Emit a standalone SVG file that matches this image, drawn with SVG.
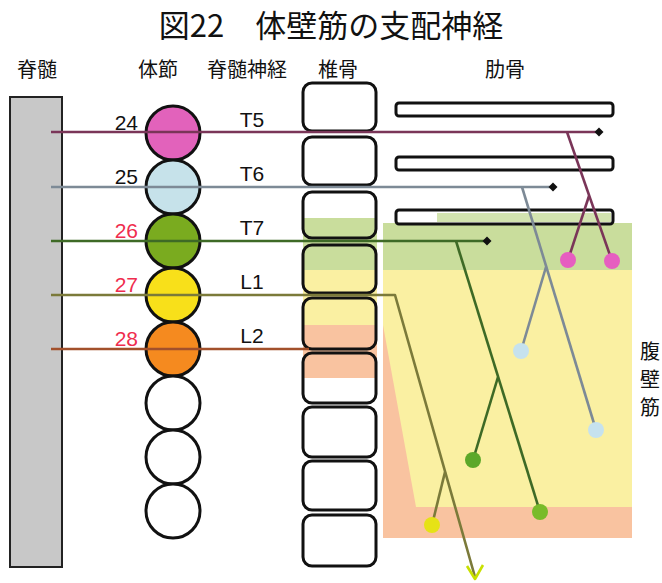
<svg xmlns="http://www.w3.org/2000/svg" width="662" height="583" viewBox="0 0 662 583">
<style>
text{font-family:"Noto Sans CJK JP","Liberation Sans",sans-serif;fill:#111}
.hd{font-size:20px;text-anchor:middle}
.num{font-size:21px;text-anchor:end;font-family:"Liberation Sans","Noto Sans CJK JP",sans-serif}
.red{fill:#ef2d4e}
.tl{font-size:21px;text-anchor:middle;font-family:"Liberation Sans","Noto Sans CJK JP",sans-serif}
.seg{stroke:#111;stroke-width:3}
.vb{fill:none;stroke:#111;stroke-width:3}
.rib{fill:#fff;stroke:#111;stroke-width:3}
.nv{fill:none;stroke-width:2.6;stroke-linejoin:round}
</style>
<defs>
<marker id="dia" viewBox="-5 -5 10 10" markerWidth="10" markerHeight="10" markerUnits="userSpaceOnUse" refX="0" refY="0">
<path d="M0,-4.5 L4.5,0 L0,4.5 L-4.5,0Z" fill="#111"/>
</marker>
</defs>
<rect width="662" height="583" fill="#fff"/>
<text x="331" y="37" style="font-size:31px;text-anchor:middle">図22　体壁筋の支配神経</text>
<g id="headers">
<text class="hd" x="37" y="77">脊髄</text>
<text class="hd" x="158" y="77">体節</text>
<text class="hd" x="247" y="77">脊髄神経</text>
<text class="hd" x="338" y="77">椎骨</text>
<text class="hd" x="505" y="77">肋骨</text>
</g>
<g id="muscle-regions">
<rect x="303" y="218" width="74" height="52" fill="#c9dd9c"/>
<rect x="303" y="270" width="74" height="55" fill="#faf0a2"/>
<rect x="303" y="325" width="74" height="53" fill="#f9c3a0"/>
<rect x="383" y="223" width="249" height="47" fill="#c9dd9c"/>
<rect x="383" y="270" width="249" height="237" fill="#faf0a2"/>
<polygon points="383,325 416,507 632,507 632,538 383,538" fill="#f9c3a0"/>
</g>
<g id="spinal-cord"><rect x="10" y="97" width="52" height="470" fill="#c8c8c8" stroke="#222" stroke-width="2"/></g>
<g id="segments">
<circle class="seg" cx="173" cy="133" r="27" fill="#e262bb"/>
<circle class="seg" cx="173" cy="187" r="27" fill="#c6e2ea"/>
<circle class="seg" cx="173" cy="241" r="27" fill="#7aab1f"/>
<circle class="seg" cx="173" cy="295" r="27" fill="#f8e01a"/>
<circle class="seg" cx="173" cy="349" r="27" fill="#f58a1f"/>
<circle class="seg" cx="173" cy="403" r="27" fill="#fff"/>
<circle class="seg" cx="173" cy="457" r="27" fill="#fff"/>
<circle class="seg" cx="173" cy="511" r="27" fill="#fff"/>
</g>
<g id="segment-labels">
<text class="num" x="138" y="130">24</text>
<text class="num" x="138" y="184">25</text>
<text class="num red" x="138" y="238">26</text>
<text class="num red" x="138" y="292">27</text>
<text class="num red" x="138" y="346">28</text>
<text class="tl" x="252" y="127">T5</text>
<text class="tl" x="252" y="181">T6</text>
<text class="tl" x="252" y="235">T7</text>
<text class="tl" x="252" y="289">L1</text>
<text class="tl" x="252" y="343">L2</text>
</g>
<g id="vertebrae">
<rect class="vb" x="303" y="83" width="73" height="48" rx="9"/>
<rect class="vb" x="303" y="137" width="73" height="48" rx="9"/>
<rect class="vb" x="303" y="192" width="73" height="46" rx="9"/>
<rect class="vb" x="303" y="245" width="73" height="48" rx="9"/>
<rect class="vb" x="303" y="298" width="73" height="51" rx="9"/>
<rect class="vb" x="303" y="353" width="73" height="50" rx="9"/>
<rect class="vb" x="303" y="407" width="73" height="50" rx="9"/>
<rect class="vb" x="303" y="461" width="73" height="49" rx="9"/>
<rect class="vb" x="303" y="515" width="73" height="51" rx="9"/>
</g>
<g id="ribs">
<rect class="rib" x="396" y="103" width="217" height="13" rx="3"/>
<rect class="rib" x="396" y="157" width="217" height="13" rx="3"/>
<rect class="rib" x="396" y="210" width="217" height="14" rx="3"/>
<rect x="437" y="213" width="174" height="9" fill="#d3e4b0"/>
</g>
<text id="label-abdominal" style="font-size:20px;text-anchor:middle"><tspan x="650" y="359">腹</tspan><tspan x="650" y="387">壁</tspan><tspan x="650" y="415">筋</tspan></text>
<g id="connectors">
<g stroke="#7a3558">
<polyline class="nv" points="51,132 599,132" marker-end="url(#dia)"/>
<polyline class="nv" points="567,132 612,261"/>
<polyline class="nv" points="589,196 568,260"/>
</g>
<g stroke="#7d8a96">
<polyline class="nv" points="51,187 553,187" marker-end="url(#dia)"/>
<polyline class="nv" points="522,187 596,430"/>
<polyline class="nv" points="546,267 521,351"/>
</g>
<g stroke="#3e6a26">
<polyline class="nv" points="51,241 487,241" marker-end="url(#dia)"/>
<polyline class="nv" points="456,241 540,512"/>
<polyline class="nv" points="498,377 473,460"/>
</g>
<g stroke="#7b7a3a">
<polyline class="nv" points="51,295 395,295 475,577"/>
<polyline class="nv" points="445,472 432,525"/>
</g>
<polyline class="nv" stroke="#c8e000" stroke-width="3" points="467,566 475,579 483,565"/>
<polyline class="nv" stroke="#a2502b" points="51,349 309,349"/>
</g>
<g id="endpoints">
<circle cx="568" cy="260" r="8" fill="#e65ec0"/>
<circle cx="612" cy="261" r="8" fill="#e65ec0"/>
<circle cx="521" cy="351" r="8" fill="#c6e2ee"/>
<circle cx="596" cy="430" r="8" fill="#c6e2ee"/>
<circle cx="473" cy="460" r="8" fill="#5ca82a"/>
<circle cx="540" cy="512" r="8" fill="#79bb2a"/>
<circle cx="432" cy="525" r="8" fill="#e6e216"/>
</g>
</svg>
